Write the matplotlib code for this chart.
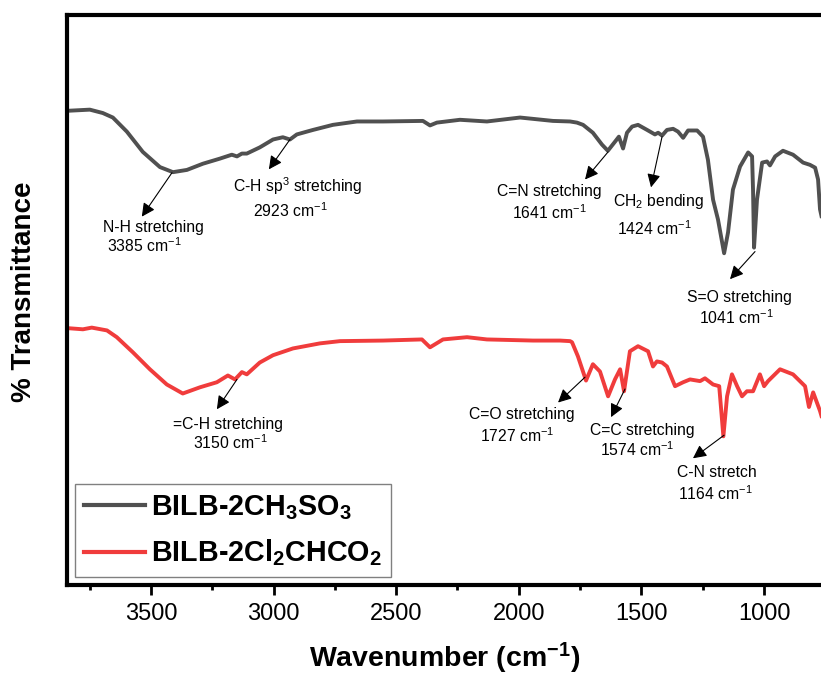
import numpy as np
import matplotlib
matplotlib.use('Agg')
import matplotlib.pyplot as plt
from matplotlib.ticker import MultipleLocator

plt.rcParams['font.family'] = ['Liberation Sans', 'DejaVu Sans']
plt.rcParams['mathtext.fontset'] = 'custom'
plt.rcParams['mathtext.rm'] = 'Liberation Sans'
plt.rcParams['mathtext.it'] = 'Liberation Sans:italic'
plt.rcParams['mathtext.bf'] = 'Liberation Sans:bold'

# spectrum of BILB-2CH3SO3 (wavenumber, % transmittance, offset trace)
wn_ch3so3 = [3838, 3749, 3696, 3655, 3598, 3533, 3463, 3410, 3353, 3288, 3219, 3170,
             3149, 3129, 3109, 3056, 3002, 2962, 2933, 2905, 2864, 2839, 2758, 2660,
             2554, 2391, 2362, 2334, 2240, 2130, 1995, 1861, 1791, 1763, 1738, 1698,
             1661, 1637, 1608, 1592, 1575, 1559, 1538, 1514, 1477, 1445, 1432, 1416,
             1396, 1371, 1351, 1330, 1310, 1273, 1249, 1229, 1208, 1188, 1163, 1147,
             1127, 1098, 1065, 1049, 1045, 1041, 1029, 1008, 988, 976, 955, 923,
             882, 841, 813, 792, 780, 772, 766]
t_ch3so3 = [84.2, 84.4, 83.8, 83.0, 80.5, 76.9, 74.2, 73.3, 73.7, 74.8, 75.7, 76.4,
            76.1, 76.6, 76.6, 77.7, 79.1, 79.5, 79.1, 80.0, 80.5, 80.8, 81.7, 82.3,
            82.3, 82.4, 81.6, 82.1, 82.6, 82.3, 83.0, 82.4, 82.3, 82.1, 81.7, 80.3,
            78.2, 77.1, 78.7, 79.6, 77.5, 80.3, 81.4, 81.7, 80.8, 80.0, 80.3, 79.8,
            80.8, 81.0, 80.5, 79.4, 80.7, 80.7, 79.6, 75.5, 68.4, 64.9, 58.9, 62.6,
            70.2, 74.3, 76.8, 76.1, 70.0, 59.9, 68.4, 75.0, 75.2, 74.5, 76.1, 77.1,
            76.4, 75.0, 74.6, 74.1, 72.0, 66.7, 65.5]

# spectrum of BILB-2Cl2CHCO2
wn_cl2chco2 = [3838, 3777, 3741, 3679, 3639, 3573, 3504, 3435, 3370, 3300, 3231, 3186,
               3157, 3129, 3109, 3056, 3002, 2921, 2811, 2729, 2554, 2395, 2362, 2309,
               2211, 2130, 1942, 1832, 1791, 1783, 1759, 1726, 1698, 1669, 1636, 1608,
               1587, 1571, 1547, 1514, 1473, 1453, 1437, 1416, 1396, 1363, 1330, 1302,
               1261, 1241, 1208, 1183, 1166, 1151, 1131, 1110, 1090, 1070, 1045, 1017,
               1000, 984, 935, 882, 833, 817, 800, 772, 766]
t_cl2chco2 = [45.6, 45.4, 45.7, 45.2, 44.0, 41.3, 38.3, 35.6, 34.0, 35.1, 36.0, 37.2,
              36.5, 37.8, 37.4, 39.5, 40.8, 42.0, 42.9, 43.3, 43.4, 43.6, 42.2, 43.6,
              44.0, 43.6, 43.4, 43.4, 43.3, 43.1, 40.6, 36.3, 39.2, 37.9, 33.5, 36.5,
              38.3, 34.4, 41.5, 42.4, 41.5, 38.8, 39.7, 39.5, 38.8, 35.3, 36.0, 36.5,
              36.2, 36.7, 35.6, 35.3, 26.4, 33.5, 37.4, 35.3, 33.5, 34.4, 34.4, 37.4,
              35.3, 36.2, 38.3, 37.4, 35.3, 31.6, 34.2, 30.9, 30.0]

labels = [r'BILB-2CH$_{\mathbf{3}}$SO$_{\mathbf{3}}$', r'BILB-2Cl$_{\mathbf{2}}$CHCO$_{\mathbf{2}}$']
colors = ['#505050', '#f03c3c']

fig = plt.figure(figsize=(8.21, 6.77), dpi=100)
ax = fig.add_axes([0.0822, 0.1359, 0.9178, 0.8419])

ax.plot(wn_ch3so3, t_ch3so3, color=colors[0], lw=2.8, label=labels[0])
ax.plot(wn_cl2chco2, t_cl2chco2, color=colors[1], lw=2.8, label=labels[1])

ax.set_xlim(3840, 768)
ax.set_ylim(0, 101.2)
ax.xaxis.set_major_locator(MultipleLocator(500))
ax.xaxis.set_minor_locator(MultipleLocator(250))
ax.set_yticks([])
for s in ['left', 'bottom', 'top']:
    ax.spines[s].set_linewidth(3)
ax.spines['right'].set_visible(False)
ax.tick_params(axis='x', which='major', direction='out', length=7, width=2, labelsize=17, pad=6)
ax.tick_params(axis='x', which='minor', direction='out', length=3.5, width=2)

ax.set_xlabel(r'Wavenumber (cm$^{\mathbf{-1}}$)', fontsize=20.5, fontweight='bold', labelpad=11)
ax.set_ylabel('% Transmittance', fontsize=20, fontweight='bold')
ax.yaxis.set_label_coords(-0.041, 0.514)

# peak annotations: (peak x, peak y), arrow tip, line 1, line 2
notes = [
    ((3414, 73.2), (3537, 65.4), (3696, 63.5, 'N-H stretching'), (3679, 60.3, '3385 cm$^{-1}$')),
    ((2933, 79.1), (3019, 73.8), (3166, 70.9, 'C-H sp$^3$ stretching'), (3084, 66.5, '2923 cm$^{-1}$')),
    ((1636, 76.9), (1730, 72.0), (2089, 69.9, 'C=N stretching'), (2028, 66.1, '1641 cm$^{-1}$')),
    ((1416, 79.6), (1461, 70.6), (1616, 68.1, 'CH$_2$ bending'), (1600, 63.3, '1424 cm$^{-1}$')),
    ((1037, 59.2), (1139, 54.3), (1314, 51.1, 'S=O stretching'), (1265, 47.5, '1041 cm$^{-1}$')),
    ((3149, 36.5), (3231, 31.2), (3410, 28.5, '=C-H stretching'), (3329, 25.2, '3150 cm$^{-1}$')),
    ((1730, 36.9), (1840, 32.4), (2203, 30.3, 'C=O stretching'), (2158, 26.6, '1727 cm$^{-1}$')),
    ((1567, 34.8), (1624, 29.8), (1710, 27.5, 'C=C stretching'), (1669, 24.1, '1574 cm$^{-1}$')),
    ((1163, 26.6), (1290, 22.5), (1355, 20.0, 'C-N stretch'), (1351, 16.3, '1164 cm$^{-1}$')),
]
for start, tip, l1, l2 in notes:
    ax.annotate('', xy=tip, xytext=start,
                arrowprops=dict(arrowstyle='-|>', color='black', lw=0.8,
                                mutation_scale=20, shrinkA=0, shrinkB=0))
    ax.text(l1[0], l1[1], l1[2], fontsize=11.3, ha='left', va='center')
    ax.text(l2[0], l2[1], l2[2], fontsize=11.3, ha='left', va='center')

leg = ax.legend(loc='lower left', bbox_to_anchor=(0.01, 0.014), borderaxespad=0,
                prop={'size': 20.7, 'weight': 'bold'}, handlelength=2.15, handletextpad=0.2,
                borderpad=0.3, labelspacing=0.55, fancybox=False, framealpha=1)
leg.get_frame().set_edgecolor('#808080')
leg.get_frame().set_linewidth(1)
for line in leg.get_lines():
    line.set_linewidth(3)

fig.savefig('out.png', dpi=100)
